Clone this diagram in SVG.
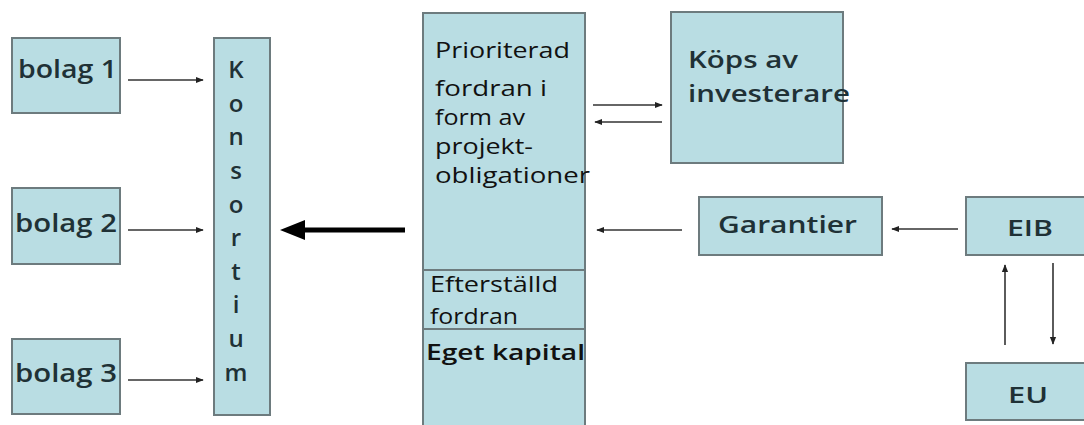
<svg xmlns="http://www.w3.org/2000/svg" width="1084" height="425" viewBox="0 0 1084 425">
<defs>
<style>
.box{fill:#b9dde3;stroke:#6d7b7e;stroke-width:2}
.lbl{font-family:"Open Sans","Liberation Sans",sans-serif;font-weight:600;fill:#1f3136}
.col{font-family:"Open Sans","Liberation Sans",sans-serif;font-size:21px;fill:#111}
.ln{stroke:#333;stroke-width:1.6;fill:none}
</style>
<marker id="ah" viewBox="0 0 10 10" refX="9" refY="5" markerWidth="5" markerHeight="5" orient="auto">
<path d="M0,1 L10,5 L0,9 Z" fill="#222"/>
</marker>
</defs>
<rect width="1084" height="425" fill="#fff"/>
<g id="bolag1"><rect class="box" x="12" y="38" width="108" height="75"/><text class="lbl" x="18" y="78" font-size="25" textLength="99" lengthAdjust="spacingAndGlyphs">bolag 1</text></g>
<g id="bolag2"><rect class="box" x="12" y="188" width="108" height="76"/><text class="lbl" x="15" y="232" font-size="25" textLength="102" lengthAdjust="spacingAndGlyphs">bolag 2</text></g>
<g id="bolag3"><rect class="box" x="12" y="339" width="108" height="75"/><text class="lbl" x="15" y="382" font-size="25" textLength="102" lengthAdjust="spacingAndGlyphs">bolag 3</text></g>
<g id="konsortium"><rect class="box" x="214" y="38" width="56" height="377"/>
<g class="lbl" font-size="24" font-weight="700" text-anchor="middle">
<text x="236" y="78">K</text><text x="236" y="112">o</text><text x="236" y="145">n</text><text x="236" y="179">s</text><text x="236" y="213">o</text><text x="236" y="246">r</text><text x="236" y="280">t</text><text x="236" y="313">i</text><text x="236" y="347">u</text><text x="236" y="381">m</text>
</g></g>
<g id="fordran">
<rect class="box" x="423" y="13" width="162" height="416"/>
<line x1="423" y1="270" x2="585" y2="270" stroke="#6d7b7e" stroke-width="2"/>
<line x1="423" y1="329" x2="585" y2="329" stroke="#6d7b7e" stroke-width="2"/>
<text class="col" x="435" y="58" textLength="135" lengthAdjust="spacingAndGlyphs">Prioriterad</text>
<text class="col" x="435" y="96" textLength="112" lengthAdjust="spacingAndGlyphs">fordran i</text>
<text class="col" x="435" y="125" textLength="90" lengthAdjust="spacingAndGlyphs">form av</text>
<text class="col" x="435" y="154" textLength="98" lengthAdjust="spacingAndGlyphs">projekt-</text>
<text class="col" x="435" y="183" textLength="155" lengthAdjust="spacingAndGlyphs">obligationer</text>
<text class="col" x="430" y="292" textLength="128" lengthAdjust="spacingAndGlyphs">Efterställd</text>
<text class="col" x="430" y="324" textLength="88" lengthAdjust="spacingAndGlyphs">fordran</text>
<text class="col" x="426" y="360" font-weight="600" fill="#333" textLength="159" lengthAdjust="spacingAndGlyphs">Eget kapital</text>
</g>
<g id="kops"><rect class="box" x="671" y="12" width="172" height="151"/>
<text class="lbl" x="688" y="68" font-size="23" textLength="110" lengthAdjust="spacingAndGlyphs">Köps av</text>
<text class="lbl" x="688" y="102" font-size="23" textLength="162" lengthAdjust="spacingAndGlyphs">investerare</text></g>
<g id="garantier"><rect class="box" x="699" y="197" width="183" height="58"/>
<text class="lbl" x="718" y="233" font-size="23" textLength="139" lengthAdjust="spacingAndGlyphs">Garantier</text></g>
<g id="eib"><rect class="box" x="966" y="197" width="124" height="58"/>
<text class="lbl" x="1007" y="236" font-size="22" font-weight="700" textLength="46" lengthAdjust="spacingAndGlyphs">EIB</text></g>
<g id="eu"><rect class="box" x="966" y="363" width="124" height="57"/>
<text class="lbl" x="1008" y="403" font-size="22" font-weight="700" textLength="40" lengthAdjust="spacingAndGlyphs">EU</text></g>
<g id="connectors">
<line class="ln" x1="128" y1="80" x2="203" y2="80" marker-end="url(#ah)"/>
<line class="ln" x1="128" y1="230" x2="203" y2="230" marker-end="url(#ah)"/>
<line class="ln" x1="128" y1="380" x2="203" y2="380" marker-end="url(#ah)"/>
<line x1="405" y1="230" x2="300" y2="230" stroke="#000" stroke-width="5"/>
<path d="M280,230 L305,220 L305,240 Z" fill="#000"/>
<line class="ln" x1="593" y1="105" x2="662" y2="105" marker-end="url(#ah)"/>
<line class="ln" x1="662" y1="122" x2="595" y2="122" marker-end="url(#ah)"/>
<line class="ln" x1="682" y1="230" x2="597" y2="230" marker-end="url(#ah)"/>
<line class="ln" x1="958" y1="229" x2="892" y2="229" marker-end="url(#ah)"/>
<line class="ln" x1="1005" y1="345" x2="1005" y2="265" marker-end="url(#ah)"/>
<line class="ln" x1="1053" y1="263" x2="1053" y2="344" marker-end="url(#ah)"/>
</g>
</svg>
